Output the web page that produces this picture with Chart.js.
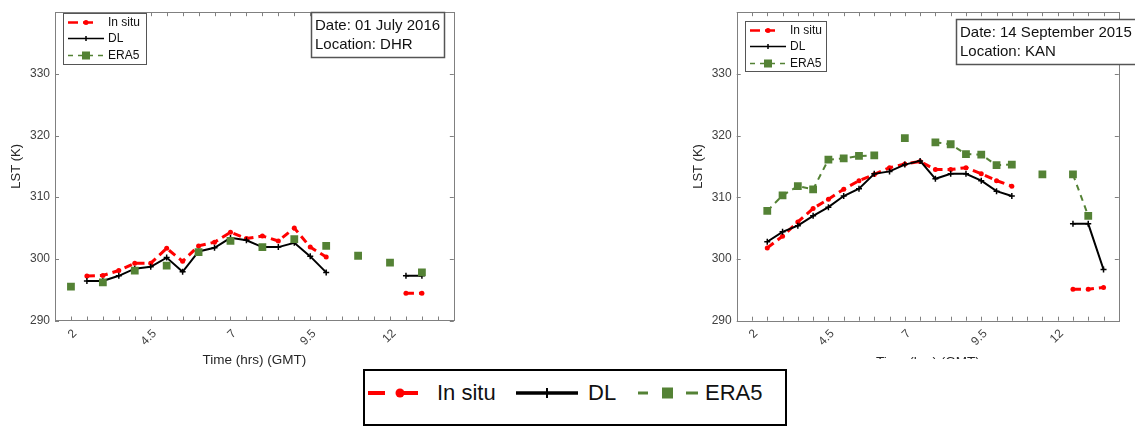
<!DOCTYPE html>
<html>
<head>
<meta charset="utf-8">
<script src="https://cdn.jsdelivr.net/npm/chart.js@4.4.1/dist/chart.umd.min.js"></script>
<style>
  body { margin: 0; background: #fff; width: 1135px; height: 427px; position: relative; overflow: hidden; font-family: 'Liberation Sans', Arial, Helvetica, sans-serif; }
  #leftChart { position: absolute; left: 0; top: 0; }
  #rightWrap { position: absolute; left: 680px; top: 0; width: 455px; height: 359px; overflow: hidden; }
  #keyBox { position: absolute; left: 363px; top: 369px; width: 420px; height: 53px; border: 2px solid #000; background: #fff; }
  #keyBox svg { position: absolute; left: 0; top: 0; }
  .keyText { position: absolute; top: 11px; font-size: 22px; line-height: 22px; color: #111; white-space: nowrap; }
</style>
</head>
<body>
<canvas id="leftChart" width="470" height="370"></canvas>
<div id="rightWrap"><canvas id="rightChart" width="455" height="370"></canvas></div>

<div id="keyBox">
  <svg width="420" height="53">
    <line x1="3" y1="22" x2="20" y2="22" stroke="#ff0000" stroke-width="4"/>
    <line x1="32" y1="22" x2="53" y2="22" stroke="#ff0000" stroke-width="4"/>
    <circle cx="35" cy="22" r="4.5" fill="#ff0000"/>
    <line x1="151" y1="22" x2="213" y2="22" stroke="#000" stroke-width="3.5"/>
    <line x1="182" y1="17" x2="182" y2="27" stroke="#000" stroke-width="2"/>
    <line x1="273" y1="22" x2="283" y2="22" stroke="#548235" stroke-width="3"/>
    <rect x="297" y="16.5" width="11" height="11" fill="#548235"/>
    <line x1="321" y1="22" x2="333" y2="22" stroke="#548235" stroke-width="3"/>
  </svg>
  <span class="keyText" style="left:72px">In situ</span>
  <span class="keyText" style="left:223px">DL</span>
  <span class="keyText" style="left:340px">ERA5</span>
</div>

<script>
// Time axis (hrs GMT), half-hour grid
const timeHrs = [2, 2.5, 3, 3.5, 4, 4.5, 5, 5.5, 6, 6.5, 7, 7.5, 8, 8.5, 9, 9.5, 10, 10.5, 11, 11.5, 12, 12.5, 13, 13.5];
const xTickLabels = [2, 4.5, 7, 9.5, 12];
const yTickLabels = [290, 300, 310, 320, 330];

// DHR - 01 July 2016
const dhrInSitu = [null, 297.2, 297.3, 298.1, 299.3, 299.3, 301.7, 299.6, 302.1, 302.7, 304.3, 303.3, 303.7, 302.9, 305.0, 301.9, 300.3, null, null, null, null, 294.4, 294.4, null];
const dhrDL     = [null, 296.4, 296.4, 297.25, 298.4, 298.7, 300.2, 297.9, 301.2, 301.8, 303.4, 303.0, 301.9, 301.9, 302.6, 300.4, 297.8, null, null, null, null, 297.25, 297.25, null];
const dhrERA5   = [295.5, null, 296.2, null, 298.1, null, 298.9, null, 301.1, null, 302.9, null, 301.9, null, 303.2, null, 302.1, null, 300.5, null, 299.4, null, 297.8, null];

// KAN - 14 September 2015
const kanInSitu = [null, 301.8, 303.7, 306.0, 308.2, 309.7, 311.3, 312.7, 313.7, 314.8, 315.4, 315.8, 314.5, 314.5, 314.8, 313.8, 312.7, 311.8, null, null, null, 295.1, 295.1, 295.4];
const kanDL     = [null, 302.8, 304.4, 305.4, 307.0, 308.4, 310.2, 311.4, 313.8, 314.2, 315.3, 315.9, 313.0, 313.8, 313.8, 312.7, 311.0, 310.2, null, null, null, 305.7, 305.7, 298.3];
const kanERA5   = [null, 307.8, 310.3, 311.8, 311.3, 316.1, 316.3, 316.7, 316.8, null, 319.6, null, 318.9, 318.6, 317.0, 316.9, 315.2, 315.3, null, 313.7, null, 313.7, 307.0, null];

const FONT = "'Liberation Sans', Arial, Helvetica, sans-serif";
const RED = '#ff0000';
const GREEN = '#548235';

function toPoints(values) {
  return timeHrs.map((t, i) => ({ x: t, y: values[i] }));
}

function makeDatasets(inSitu, dl, era5) {
  return [
    {
      label: 'In situ',
      data: toPoints(inSitu),
      borderColor: RED,
      backgroundColor: RED,
      borderWidth: 3,
      borderDash: [8, 5],
      pointStyle: 'circle',
      pointRadius: 2.5,
      pointBorderWidth: 0,
      order: 2
    },
    {
      label: 'DL',
      data: toPoints(dl),
      borderColor: '#000',
      backgroundColor: '#000',
      borderWidth: 2,
      pointStyle: 'cross',
      pointRadius: 3,
      pointBorderWidth: 1.5,
      order: 1
    },
    {
      label: 'ERA5',
      data: toPoints(era5),
      borderColor: GREEN,
      backgroundColor: GREEN,
      borderWidth: 2,
      borderDash: [6, 5],
      pointStyle: 'rect',
      pointRadius: 5.5,
      pointBorderWidth: 0,
      order: 0
    }
  ];
}

// Box around the plot with inward ticks on all four sides (MATLAB style)
const frameTicks = {
  id: 'frameTicks',
  afterDatasetsDraw(chart) {
    const { ctx, chartArea: a, scales: { x, y } } = chart;
    ctx.save();
    ctx.strokeStyle = '#808080';
    ctx.lineWidth = 1;
    ctx.beginPath();
    x.ticks.forEach(t => {
      const px = Math.round(x.getPixelForValue(t.value)) + 0.5;
      ctx.moveTo(px, a.bottom); ctx.lineTo(px, a.bottom - 4);
      ctx.moveTo(px, a.top); ctx.lineTo(px, a.top + 4);
    });
    y.ticks.forEach(t => {
      const py = Math.round(y.getPixelForValue(t.value)) + 0.5;
      ctx.moveTo(a.left, py); ctx.lineTo(a.left + 4, py);
      ctx.moveTo(a.right, py); ctx.lineTo(a.right - 4, py);
    });
    ctx.stroke();
    ctx.strokeRect(Math.round(a.left) + 0.5, Math.round(a.top) + 0.5, Math.round(a.right - a.left), Math.round(a.bottom - a.top));
    ctx.restore();
  }
};

// Small legend box and date/location note inside each plot
const insetNotes = {
  id: 'insetNotes',
  afterDraw(chart, args, opts) {
    const { ctx } = chart;
    const lg = opts.legend;
    ctx.save();
    ctx.fillStyle = '#fff';
    ctx.fillRect(lg.x, lg.y, lg.w, lg.h);
    ctx.strokeStyle = '#555';
    ctx.lineWidth = 1;
    ctx.strokeRect(lg.x + 0.5, lg.y + 0.5, lg.w, lg.h);

    const x0 = lg.x + 5, x1 = lg.x + 41, xm = lg.x + 23;
    const rows = [lg.y + 9.5, lg.y + 25.5, lg.y + 42.5];
    // In situ
    ctx.strokeStyle = RED; ctx.lineWidth = 2.5; ctx.setLineDash([10, 5]);
    ctx.beginPath(); ctx.moveTo(x0, rows[0]); ctx.lineTo(x1 - 7, rows[0]); ctx.stroke();
    ctx.setLineDash([]);
    ctx.fillStyle = RED; ctx.beginPath(); ctx.arc(xm, rows[0], 2.5, 0, Math.PI * 2); ctx.fill();
    // DL
    ctx.strokeStyle = '#000'; ctx.lineWidth = 1.5;
    ctx.beginPath(); ctx.moveTo(x0, rows[1]); ctx.lineTo(x1, rows[1]);
    ctx.moveTo(xm, rows[1] - 2.5); ctx.lineTo(xm, rows[1] + 2.5); ctx.stroke();
    // ERA5
    ctx.strokeStyle = GREEN; ctx.lineWidth = 1.5; ctx.setLineDash([5, 5]);
    ctx.beginPath(); ctx.moveTo(x0, rows[2]); ctx.lineTo(x1, rows[2]); ctx.stroke();
    ctx.setLineDash([]);
    ctx.fillStyle = GREEN; ctx.fillRect(xm - 4, rows[2] - 4, 8, 8);

    ctx.fillStyle = '#111';
    ctx.font = '12px ' + FONT;
    ctx.textBaseline = 'middle';
    ['In situ', 'DL', 'ERA5'].forEach((s, i) => ctx.fillText(s, lg.x + 45, rows[i]));

    const nt = opts.note;
    ctx.fillStyle = '#fff';
    ctx.fillRect(nt.x, nt.y, nt.w, nt.h);
    ctx.strokeStyle = '#555';
    ctx.strokeRect(nt.x + 0.5, nt.y + 0.5, nt.w, nt.h);
    ctx.fillStyle = '#111';
    ctx.font = '15px ' + FONT;
    nt.lines.forEach((s, i) => ctx.fillText(s, nt.x + 4, nt.y + 14 + i * 19));
    ctx.restore();
  }
};

function makeChart(canvasId, datasets, geo) {
  return new Chart(document.getElementById(canvasId), {
    type: 'line',
    data: { datasets: datasets },
    options: {
      responsive: false,
      animation: false,
      spanGaps: false,
      layout: { padding: { left: 0, top: geo.top, right: geo.right, bottom: 0 } },
      plugins: {
        legend: { display: false },
        tooltip: { enabled: false },
        insetNotes: { legend: geo.legend, note: geo.note }
      },
      scales: {
        x: {
          type: 'linear',
          min: 1.5,
          max: 14,
          grid: { display: false, drawTicks: false },
          border: { display: false },
          afterFit: s => { s.height = geo.xHeight; },
          ticks: {
            stepSize: 0.5,
            autoSkip: false,
            maxRotation: 45,
            minRotation: 45,
            padding: 6,
            labelOffset: 4,
            color: '#404040',
            font: { family: FONT, size: 12 },
            callback: v => xTickLabels.includes(v) ? String(v) : ''
          },
          title: {
            display: true,
            text: 'Time (hrs) (GMT)',
            color: '#262626',
            font: { family: FONT, size: 13.5 },
            padding: { top: 0, bottom: geo.xTitlePad }
          }
        },
        y: {
          min: 290,
          max: 340,
          grid: { display: false, drawTicks: false },
          border: { display: false },
          afterFit: s => { s.width = geo.yWidth; },
          ticks: {
            stepSize: 10,
            padding: 5,
            color: '#404040',
            font: { family: FONT, size: 12 },
            callback: v => yTickLabels.includes(v) ? String(v) : ''
          },
          title: {
            display: true,
            text: 'LST (K)',
            color: '#262626',
            font: { family: FONT, size: 13 },
            padding: { top: geo.yTitlePad, bottom: 0 }
          }
        }
      }
    },
    plugins: [frameTicks, insetNotes]
  });
}

makeChart('leftChart', makeDatasets(dhrInSitu, dhrDL, dhrERA5), {
  top: 4, right: 9.3, xHeight: 49.5, yWidth: 55, xTitlePad: 2, yTitlePad: 9,
  legend: { x: 63, y: 13, w: 83, h: 51 },
  note: { x: 311, y: 12, w: 133, h: 45, lines: ['Date: 01 July 2016', 'Location: DHR'] }
});

makeChart('rightChart', makeDatasets(kanInSitu, kanDL, kanERA5), {
  top: 11, right: 1, xHeight: 49.3, yWidth: 56.7, xTitlePad: 0, yTitlePad: 11,
  legend: { x: 65, y: 21, w: 81, h: 50 },
  note: { x: 276, y: 19, w: 200, h: 45, lines: ['Date: 14 September 2015', 'Location: KAN'] }
});
</script>
</body>
</html>
